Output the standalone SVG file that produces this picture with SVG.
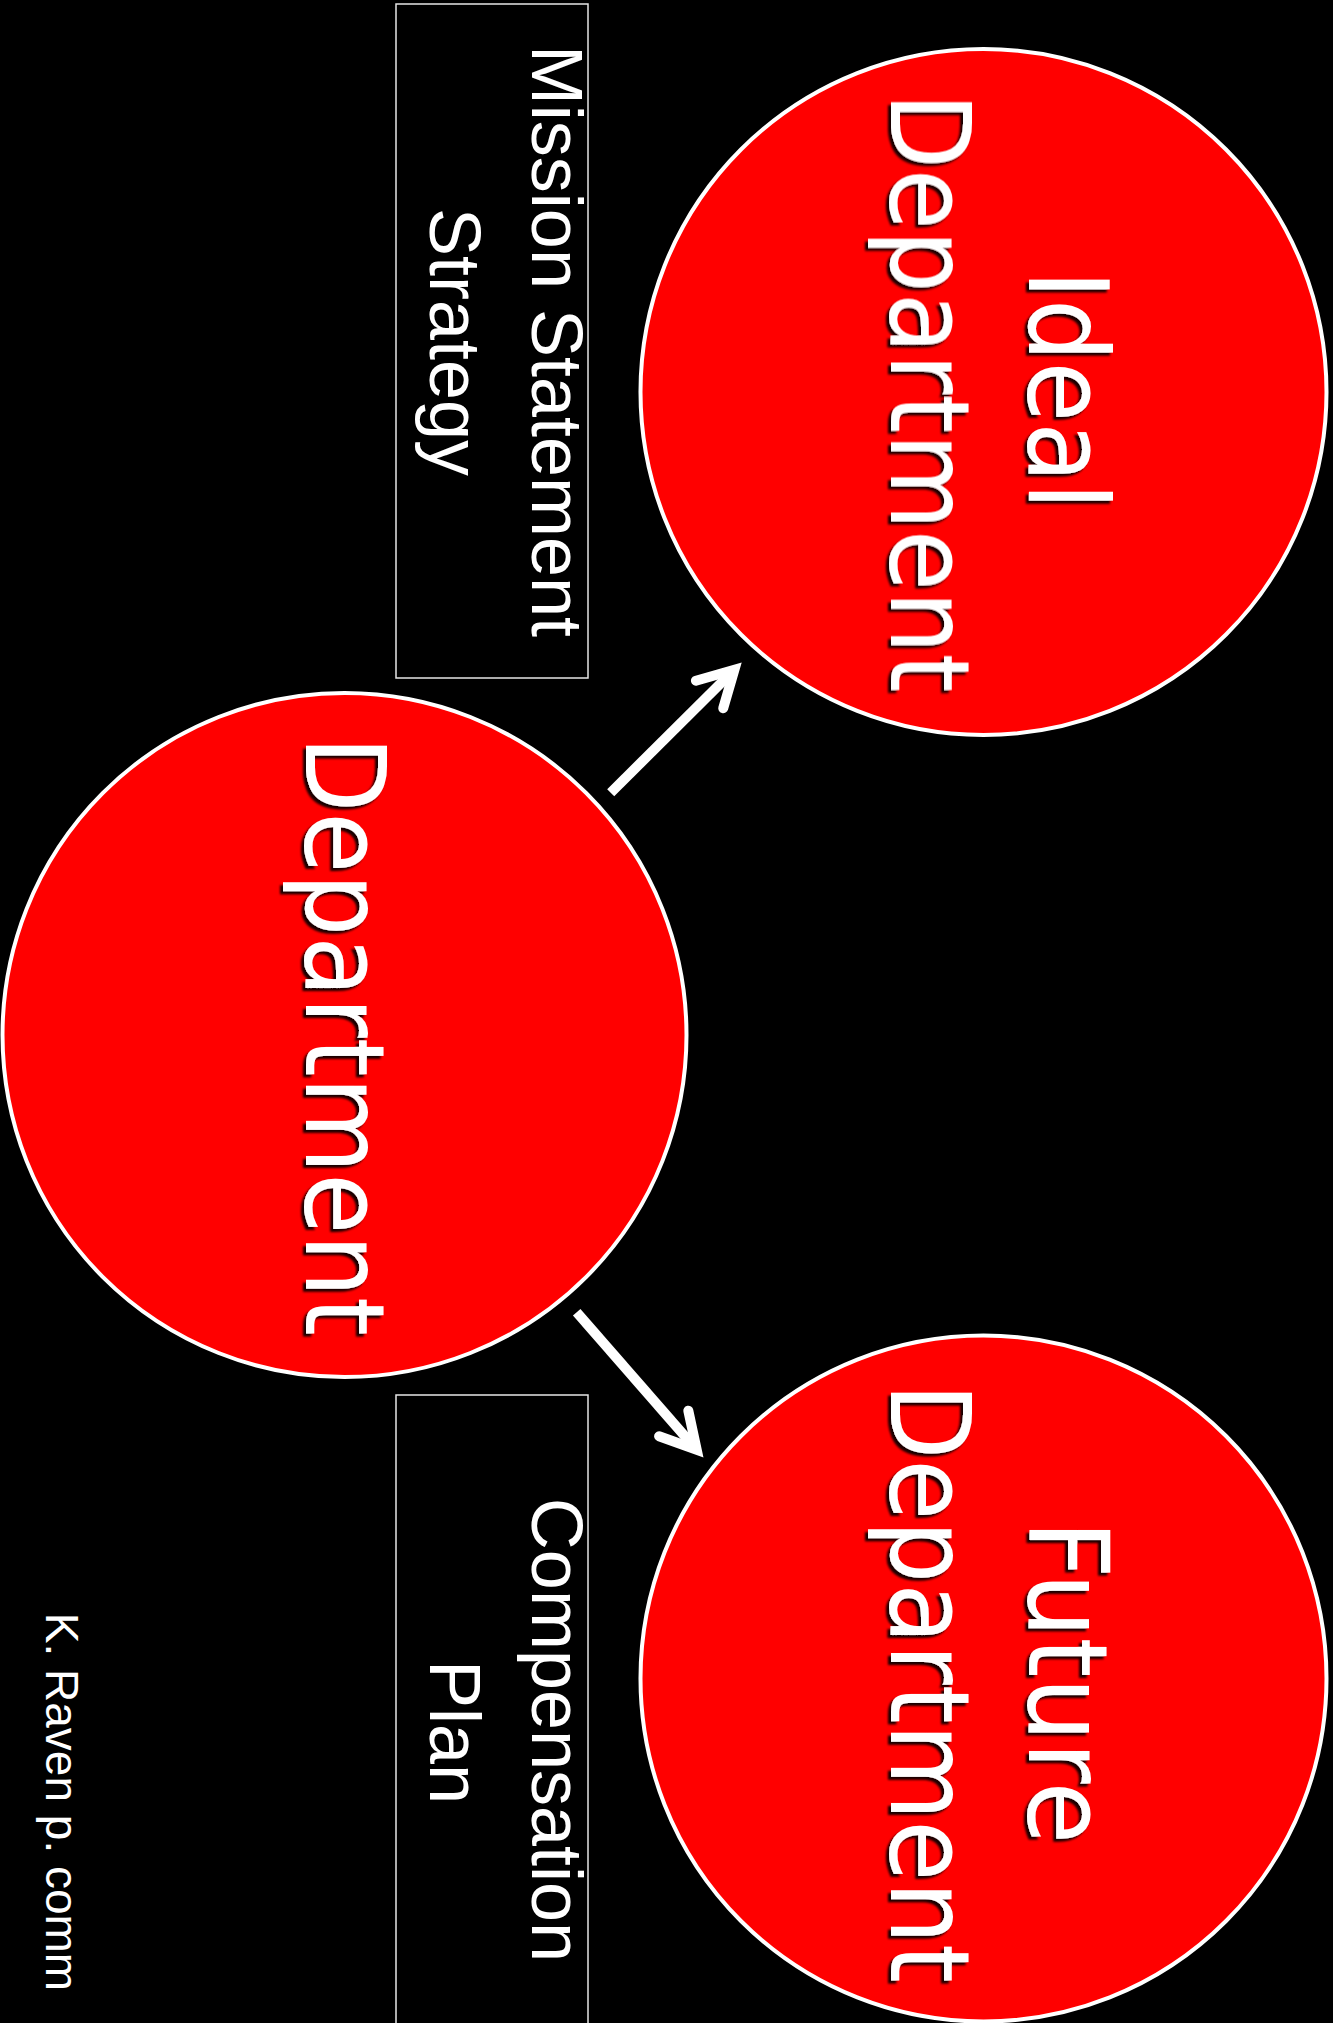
<svg xmlns="http://www.w3.org/2000/svg" width="1333" height="2023" viewBox="0 0 1333 2023">
<defs>
<style>
.circle{fill:#ff0000;stroke:#ffffff;stroke-width:4}
.box{fill:none;stroke:#e6e6e6;stroke-width:1.5}
.big{font-family:"DejaVu Sans","Liberation Sans",sans-serif;font-size:111px;fill:#ffffff;text-anchor:middle;filter:url(#shadow)}
.lbl{font-family:"Liberation Sans",Arial,sans-serif;font-size:72px;fill:#ffffff;text-anchor:middle}
.credit{font-family:"Liberation Sans",Arial,sans-serif;font-size:46px;fill:#ffffff;text-anchor:middle}
.shaft{stroke:#ffffff;stroke-width:10;fill:none;stroke-linecap:butt;marker-end:url(#head)}
</style>
<filter id="shadow" x="-10%" y="-20%" width="120%" height="140%">
<feDropShadow dx="3" dy="3" stdDeviation="1.2" flood-color="#000000" flood-opacity="0.9"/>
</filter>
<marker id="head" markerUnits="userSpaceOnUse" markerWidth="100" markerHeight="100" refX="0" refY="0" orient="auto" overflow="visible">
<path d="M-35,-19.4 L0,0 L-35,19.4" fill="none" stroke="#ffffff" stroke-width="10" stroke-linecap="round" stroke-linejoin="miter" stroke-miterlimit="10"/>
</marker>
</defs>
<rect x="0" y="0" width="1333" height="2023" fill="#000000"/>

<g id="box-mission">
<rect class="box" x="396" y="4" width="192" height="674"/>
<text class="lbl" transform="translate(532,341) rotate(90)">Mission Statement</text>
<text class="lbl" transform="translate(430,342) rotate(90)">Strategy</text>
</g>

<g id="box-compensation">
<rect class="box" x="396" y="1395" width="192" height="640"/>
<text class="lbl" transform="translate(532,1730) rotate(90)">Compensation</text>
<text class="lbl" transform="translate(430,1732) rotate(90)">Plan</text>
</g>

<g id="node-department">
<circle class="circle" cx="344.5" cy="1035" r="342"/>
<text class="big" transform="translate(306,1036) rotate(90)" textLength="600" lengthAdjust="spacingAndGlyphs">Department</text>
</g>

<g id="node-ideal">
<circle class="circle" cx="983.5" cy="392" r="343"/>
<text class="big" transform="translate(1029,390) rotate(90)" textLength="240" lengthAdjust="spacingAndGlyphs">Ideal</text>
<text class="big" transform="translate(891,392.5) rotate(90)" textLength="600" lengthAdjust="spacingAndGlyphs">Department</text>
</g>

<g id="node-future">
<circle class="circle" cx="983.5" cy="1678.5" r="343"/>
<text class="big" transform="translate(1029,1682) rotate(90)" textLength="324" lengthAdjust="spacingAndGlyphs">Future</text>
<text class="big" transform="translate(891,1683) rotate(90)" textLength="600" lengthAdjust="spacingAndGlyphs">Department</text>
</g>

<g id="credit">
<text class="credit" transform="translate(46,1802) rotate(90)">K. Raven p. comm</text>
</g>

<g id="connectors">
<line class="shaft" x1="610.7" y1="792.7" x2="734.4" y2="669.8"/>
<line class="shaft" x1="576.7" y1="1312.3" x2="696.7" y2="1449.8"/>
</g>
</svg>
